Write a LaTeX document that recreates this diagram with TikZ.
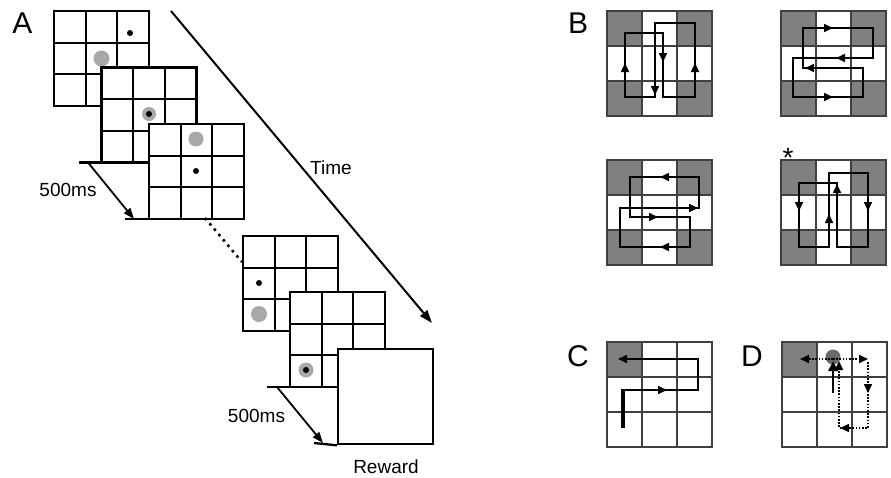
\documentclass[tikz,border=0pt]{standalone}
\usepackage{fontspec}
\setmainfont{Liberation Sans}
\usetikzlibrary{arrows.meta}

\definecolor{cellgray}{RGB}{128,128,128}
\definecolor{dotgray}{RGB}{168,168,168}
\definecolor{ballgray}{RGB}{105,105,105}

\tikzset{
  trial/.pic={
    \filldraw[fill=white, line width=2.3pt] (0,0) rectangle (95,95);
    \foreach \k in {1,2} {
      \draw[line width=2.3pt] (\k*95/3,0) -- (\k*95/3,95);
      \draw[line width=2.3pt] (0,\k*95/3) -- (95,\k*95/3);
    }
    \coordinate (-sw) at (0,95);
  },
  pics/board/.style={code={
    \foreach \i/\j in {#1} \fill[cellgray] (35*\i,35*\j) rectangle ++(35,35);
    \draw[boardln] (0,0) rectangle (105,105);
    \foreach \k in {35,70} {
      \draw[boardln] (\k,0) -- (\k,105);
      \draw[boardln] (0,\k) -- (105,\k);
    }
  }},
  boardln/.style={line width=1.2pt, black!75},
  pathln/.style={line width=1.6pt},
  tri/.style={-{Triangle[length=9pt,width=8pt]}, line width=1.6pt},
  dotln/.style={line width=1.6pt, dash pattern=on 1.6pt off 1.6pt},
  panel/.style={font=\fontsize{30}{36}\selectfont},
  txt/.style={font=\fontsize{19}{23}\selectfont},
  blackdot/.style={fill=black},
  greydot/.style={fill=dotgray},
  timeline/.style={line width=2pt, -{Triangle[length=13pt,width=9pt]}}
}

\begin{document}
\begin{tikzpicture}[x=1pt, y=-1pt]
  \useasboundingbox (0,0) rectangle (891,477);

  % Panel A: stack of trial screens
  \node[panel] (la) at (22.5,23) {A};
  \pic (g1) at (54,11) {trial};
  \fill[greydot] (101.5,58.5) circle[radius=8];
  \fill[blackdot] (130,33) circle[radius=3];
  \pic (g2) at (101.5,67.5) {trial};
  \fill[greydot] (149,114) circle[radius=7];
  \fill[blackdot] (149,114) circle[radius=3];
  \pic (g3) at (149,124) {trial};
  \fill[greydot] (196,139) circle[radius=7.5];
  \fill[blackdot] (196,171) circle[radius=3];
  \pic (g4) at (243,236) {trial};
  \fill[blackdot] (259,283) circle[radius=3];
  \fill[greydot] (259,314) circle[radius=8];
  \pic (g5) at (290,292) {trial};
  \fill[greydot] (306,370) circle[radius=7.5];
  \fill[blackdot] (306,370) circle[radius=3];
  \node[draw, line width=2.3pt, fill=white, minimum size=95pt, inner sep=0, anchor=north west] (reward) at (337,348) {};
  \node[txt] (rwtext) at (386,466.5) {Reward};

  % time axis
  \coordinate (t0) at (171,11);
  \coordinate (t1) at (432,323);
  \draw[timeline] (t0) -- (t1);
  \node[txt] (time) at (331,167.5) {Time};

  % 500ms steps
  \coordinate (s1a) at (79,162.5);
  \coordinate (s1b) at (88,162.5);
  \coordinate (s1c) at (134,219);
  \coordinate (s1d) at (125,219);
  \draw[line width=2.3pt] (s1a) -- (g2-sw);
  \draw[line width=2.3pt] (s1d) -- (g3-sw);
  \draw[line width=1.8pt, -{Triangle[length=11pt,width=8pt]}] (s1b) -- (s1c);
  \node[txt] (ms1) at (68,190) {500ms};

  \coordinate (s2a) at (267,387);
  \coordinate (s2b) at (277,387);
  \coordinate (s2c) at (323,443);
  \coordinate (s2d) at (314,443);
  \draw[line width=2.3pt] (s2a) -- (g5-sw);
  \draw[line width=2.3pt] (s2d) -- (reward.south west);
  \draw[line width=1.8pt, -{Triangle[length=11pt,width=8pt]}] (s2b) -- (s2c);
  \node[txt] (ms2) at (256.5,415.5) {500ms};

  % skipped screens
  \coordinate (d0) at (205,218);
  \coordinate (d1) at (242,262);
  \draw[line width=2.6pt, dash pattern=on 2.6pt off 4.4pt] (d0) -- (d1);

  % Panel B: four loops
  \node[panel] (lb) at (578,23) {B};
  \pic (b1) at (607,11) {board={0/0,2/0,0/2,2/2}};
  \pic (b2) at (781,11) {board={0/0,2/0,0/2,2/2}};
  \pic (b3) at (607,160) {board={0/0,2/0,0/2,2/2}};
  \pic (b4) at (781,160) {board={0/0,2/0,0/2,2/2}};
  \node[font=\fontsize{28}{32}\selectfont, inner sep=0] (star) at (788,158) {*};

  \draw[pathln] (625,97) -- (625,33) -- (663,33) -- (663,97) -- (695,97) -- (695,23) -- (655,23) -- (655,97) -- cycle;
  \draw[tri] (625,73) -- (625,63);
  \draw[tri] (663,52) -- (663,62);
  \draw[tri] (695,73) -- (695,63);
  \draw[tri] (655,85) -- (655,95);

  \draw[pathln] (803,28) -- (873,28) -- (873,58) -- (793,58) -- (793,97) -- (863,97) -- (863,68) -- (803,68) -- cycle;
  \draw[tri] (824,28) -- (833,28);
  \draw[tri] (845,58) -- (836,58);
  \draw[tri] (824,97) -- (833,97);
  \draw[tri] (813,68) -- (805,68);

  \draw[pathln] (620,208) -- (699,208) -- (699,177) -- (630,177) -- (630,217) -- (690,217) -- (690,247) -- (620,247) -- cycle;
  \draw[tri] (689,208) -- (698,208);
  \draw[tri] (670,177) -- (660,177);
  \draw[tri] (649,217) -- (658,217);
  \draw[tri] (670,247) -- (660,247);

  \draw[pathln] (799,183) -- (799,247) -- (829,247) -- (829,173) -- (868,173) -- (868,247) -- (837,247) -- (837,183) -- cycle;
  \draw[tri] (799,202) -- (799,211);
  \draw[tri] (829,223) -- (829,214);
  \draw[tri] (868,202) -- (868,211);
  \draw[tri] (837,193) -- (837,184);

  % Panel C
  \node[panel] (lc) at (578,356) {C};
  \pic (c) at (607,342) {board={0/0}};
  \draw[line width=4.6pt] (623,390) -- (623,428);
  \draw[tri] (621,390) -- (698,390) -- (698,359) -- (618,359);
  \draw[tri] (657,390) -- (667,390);

  % Panel D
  \node[panel] (ld) at (752,356) {D};
  \pic (d) at (782,342) {board={0/0}};
  \fill[ballgray] (833,357) circle[radius=7.5];
  \draw[dotln, tri] (833,359) -- (800,359);
  \draw[dotln, tri] (833,359) -- (868,359);
  \draw[dotln, tri] (868,362) -- (868,428) -- (839,428) -- (839,361);
  \draw[tri] (868,384) -- (868,393);
  \draw[tri] (848,428) -- (840,428);
  \draw[line width=2.8pt, -{Triangle[length=10pt,width=9pt]}] (833,393) -- (833,361);
\end{tikzpicture}
\end{document}
